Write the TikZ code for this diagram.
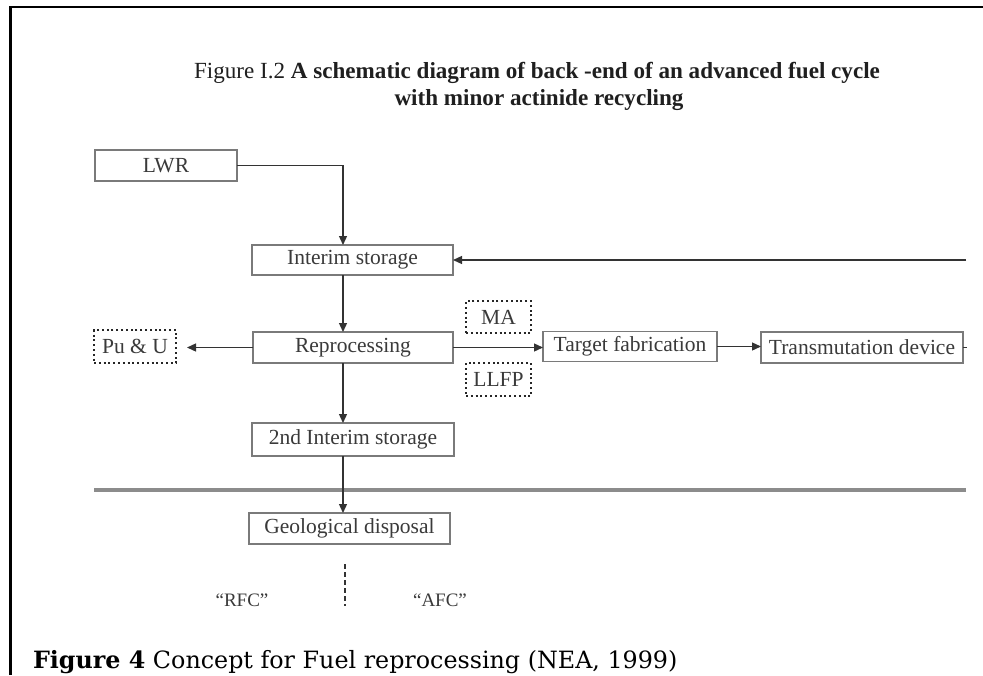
\documentclass[tikz,border=0pt]{standalone}
\usepackage{fontspec}
\setmainfont{Liberation Serif}
\newfontfamily\capfont{DejaVu Serif}
\usetikzlibrary{arrows.meta}
\definecolor{boxline}{HTML}{7A7A7A}
\definecolor{wire}{HTML}{333333}
\definecolor{labeltext}{HTML}{3A3A3A}
\definecolor{rulegray}{HTML}{8C8C8C}

\begin{document}
\begin{tikzpicture}[x=1pt,y=-1pt,
  every node/.style={inner sep=0pt, outer sep=0pt},
  labelfont/.style={font=\fontsize{21.5}{24}\selectfont},
  stage/.style={draw=boxline, line width=1.4pt, text=labeltext, labelfont},
  stream/.style={draw=black!85, line width=1.7pt, dash pattern=on 2pt off 2.8pt, text=labeltext, labelfont},
  flow/.style={draw=wire, line width=1.3pt, -{Triangle[length=9pt,width=8pt]}},
  wireonly/.style={draw=wire, line width=1.3pt},
  titlefont/.style={font=\fontsize{23.1}{27}\selectfont, text=black!88},
]
\useasboundingbox (0,0) rectangle (983,675);
\fill[white] (0,0) rectangle (983,675);

% page frame
\draw[line width=2.6pt] (10.5,675) -- (10.5,7) -- (983,7);

% heading
\node[titlefont, anchor=base] (title1) at (537,78)
  {Figure I.2 \textbf{A schematic diagram of back -end of an advanced fuel cycle}};
\node[titlefont, anchor=base] (title2) at (539,105)
  {\textbf{with minor actinide recycling}};

% process stages
\node[stage, minimum width=142pt, minimum height=31pt] (lwr) at (166,165.5) {LWR};
\node[stage, minimum width=201pt, minimum height=30pt] (interim) at (352.5,260) {Interim storage};
\node[stage, minimum width=200pt, minimum height=31pt] (repro) at (353,347.5) {Reprocessing};
\node[stage, minimum width=202pt, minimum height=33pt] (second) at (353,439.5) {2nd Interim storage};
\node[stage, minimum width=201pt, minimum height=31pt] (geo) at (349.5,528.5) {Geological disposal};
\node[stage, minimum width=174pt, minimum height=30pt] (target) at (630,346.5) {Target fabrication};
\node[stage, minimum width=202pt, minimum height=31pt] (transmut) at (862,347.5) {Transmutation device};

% separated streams
\node[stream, minimum width=82pt, minimum height=33pt] (puu) at (135,346.5) {Pu \& U};
\node[stream, minimum width=65pt, minimum height=32pt] (ma) at (498.5,317) {MA};
\node[stream, minimum width=65pt, minimum height=33pt] (llfp) at (498.5,379.5) {LLFP};

% helper points
\coordinate (spine) at (343,0);
\coordinate (feedback) at (966,260);
\coordinate (tail) at (967,347.5);
\coordinate (ruleL) at (94,490);
\coordinate (ruleR) at (966,490);
\coordinate (divtop) at (345,564);
\coordinate (divbot) at (345,606);

% boundary between the two cycles
\draw[rulegray, line width=4pt] (ruleL) -- (ruleR);
\draw[black!80, line width=1.6pt, dash pattern=on 5pt off 3pt] (divtop) -- (divbot);
\node[labelfont, font=\fontsize{19}{22}\selectfont, text=labeltext] (rfc) at (242,600) {``RFC''};
\node[labelfont, font=\fontsize{19}{22}\selectfont, text=labeltext] (afc) at (440,600) {``AFC''};

% material flows
\draw[flow] (lwr.east) -| (interim.north -| spine);
\draw[flow] (interim.south -| spine) -- (repro.north -| spine);
\draw[flow] (repro.south -| spine) -- (second.north -| spine);
\draw[flow] (second.south -| spine) -- (geo.north -| spine);
\draw[flow] (feedback) -- (interim.east);
\draw[flow, shorten >=11pt] (repro.west) -- (puu.east |- repro.west);
\draw[flow] (repro.east) -- (target.west |- repro.east);
\draw[flow] (target.east) -- (transmut.west |- target.east);
\draw[wireonly] (transmut.east) -- (tail);

% caption
\node[font=\capfont\fontsize{23.8}{28}\selectfont, anchor=base west] (caption) at (33,668)
  {\textbf{Figure 4} Concept for Fuel reprocessing (NEA, 1999)};
\end{tikzpicture}
\end{document}
